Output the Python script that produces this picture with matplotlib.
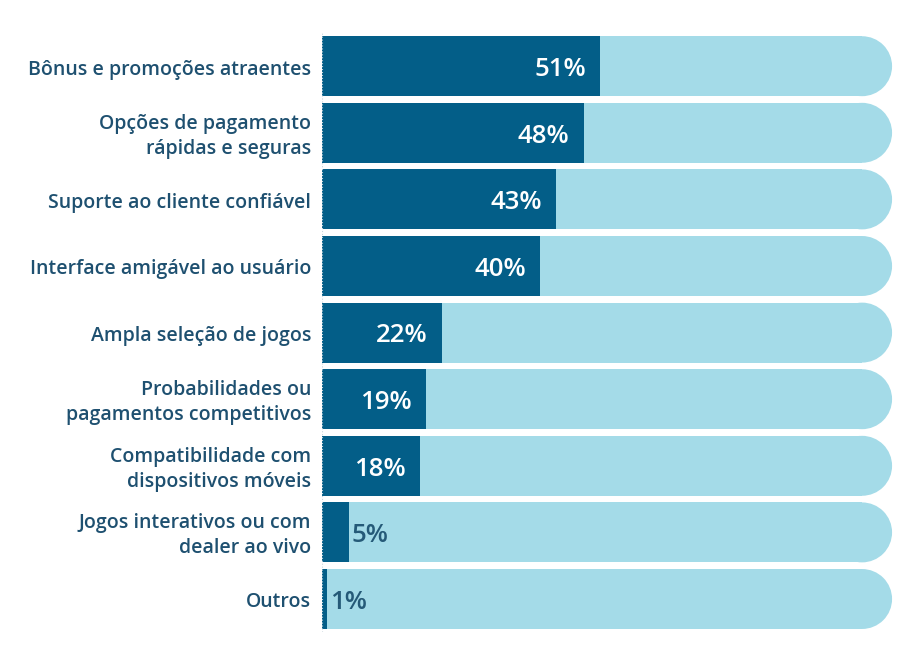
import matplotlib.pyplot as plt
from matplotlib.patches import Rectangle, Ellipse

labels = ["Bônus e promoções atraentes",
          "Opções de pagamento\nrápidas e seguras",
          "Suporte ao cliente confiável",
          "Interface amigável ao usuário",
          "Ampla seleção de jogos",
          "Probabilidades ou\npagamentos competitivos",
          "Compatibilidade com\ndispositivos móveis",
          "Jogos interativos ou com\ndealer ao vivo",
          "Outros"]
values = [51, 48, 43, 40, 22, 19, 18, 5, 1]

dark = "#035e88"
light = "#a4dbe8"
txt = "#1e5070"

plt.rcParams['font.family'] = ['Open Sans', 'DejaVu Sans']

fig = plt.figure(figsize=(9.23, 6.66), dpi=100)
ax = fig.add_axes([322 / 923, 0.0506, 1 - 322 / 923, 0.9])
xmax = (923 - 322) / 5.45
ax.set_xlim(0, xmax)
ax.set_ylim(len(values) - 0.5, -0.5)

h = 0.9
bg_end = 104.6
cap = 5.5  # rounded end, in x units
dy = 0.05  # nudge text down a little

for i, (lab, v) in enumerate(zip(labels, values)):
    ax.add_patch(Rectangle((0, i - h / 2), bg_end - cap, h, color=light, lw=0))
    ax.add_patch(Ellipse((bg_end - cap, i), 2 * cap, h, color=light, lw=0))
    ax.barh(i, v, height=h, color=dark, zorder=3)
    if v >= 10:
        ax.text(v - 2.6, i + dy, f"{v}%", ha='right', va='center', color='white',
                fontsize=18.5, fontweight='semibold', zorder=4)
    else:
        ax.text(v + 0.4, i + dy, f"{v}%", ha='left', va='center', color="#255a78",
                fontsize=18.5, fontweight='semibold', zorder=4)
    ax.text(-2, i + dy, lab, ha='right', va='center', color=txt, fontsize=14,
            fontweight='semibold', linespacing=1.35)

ax.axvline(0, color="#c8d6de", lw=0.8, ls=':', zorder=5)
ax.axis('off')

fig.savefig("out.png", dpi=100)
